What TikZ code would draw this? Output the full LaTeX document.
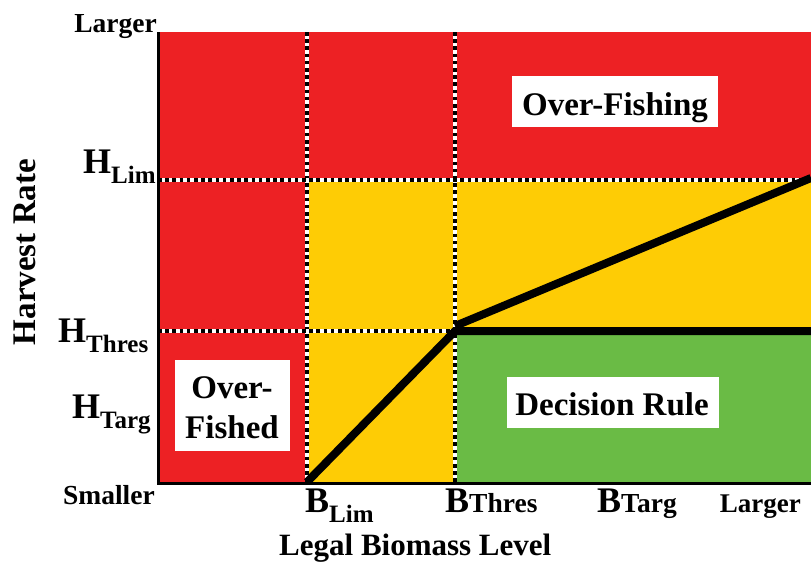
\documentclass[tikz,border=0pt]{standalone}
\usepackage{fontspec}
\setmainfont{Liberation Serif}
\definecolor{zred}{RGB}{237,33,36}
\definecolor{zyellow}{RGB}{254,204,5}
\definecolor{zgreen}{RGB}{106,187,69}
\newcommand{\fs}[1]{\fontsize{#1}{#1}\selectfont}
\begin{document}
\begin{tikzpicture}[x=1pt,y=-1pt,
  lbl/.style={inner sep=0pt, font=\bfseries},
  zonebox/.style={fill=white, inner sep=0pt},
  zonetext/.style={inner sep=0pt, anchor=base, font=\bfseries\fs{33}},
  dotline/.style={line width=3.5pt, black, dash pattern=on 3.6pt off 3.6pt, preaction={draw, white, solid, line width=3.5pt}},
  rule/.style={line width=8pt, black, line cap=butt, line join=miter},
  axis/.style={line width=3pt, black}]
\useasboundingbox (0,0) rectangle (811,562);
% key points
\coordinate (tl) at (158,32);
\coordinate (br) at (811,482);
\coordinate (bl) at (158,483);
\coordinate (brr) at (811,483);
\coordinate (blimT) at (307,32);
\coordinate (blimB) at (307,482);
\coordinate (bthrT) at (455,32);
\coordinate (bthrB) at (455,482);
\coordinate (hlimL) at (158,180);
\coordinate (hlimR) at (811,180);
\coordinate (hthrL) at (158,331);
\coordinate (hthrM) at (455,331);
\coordinate (hthrR) at (811,331);
\coordinate (upS) at (455,326);
\coordinate (upE) at (811,178);
% zones
\fill[zred] (tl) rectangle (br);
\fill[zyellow] (307,180) -- (811,180) -- (811,331) -- (455,331) -- (455,482) -- (307,482) -- cycle;
\fill[zgreen] (hthrM) rectangle (br);
% reference lines
\draw[dotline] (blimT) -- (blimB);
\draw[dotline] (bthrT) -- (bthrB);
\draw[dotline] (hlimL) -- (hlimR);
\draw[dotline] (hthrL) -- (hthrM);
% decision rule lines
\draw[rule] (blimB) -- (hthrM) -- (hthrR);
\draw[rule] (upS) -- (upE);
% axes
\draw[axis] (tl) -- (bl) -- (brr);
% zone labels
\node[zonebox, minimum width=206pt, minimum height=51pt] (ofing) at (615,101.5) {};
\node[zonetext] (ofingt) at (615,115) {Over-Fishing};
\node[zonebox, minimum width=212pt, minimum height=51pt] (drule) at (613,402.5) {};
\node[zonetext] (drulet) at (612,415) {Decision Rule};
\node[zonebox, minimum width=115pt, minimum height=91pt] (ofed) at (232.5,405.5) {};
\node[zonetext] (ofedt1) at (232,398) {Over-};
\node[zonetext] (ofedt2) at (232,438) {Fished};
% y axis labels
\node[lbl, anchor=base east, font=\bfseries\fs{27.5}] (ylarge) at (157,32) {Larger};
\node[lbl, anchor=base east, font=\bfseries\fs{27.5}] (ysmall) at (155,504) {Smaller};
\node[lbl, anchor=base west, font=\bfseries\fs{36}] (hlim) at (83,173) {H\raisebox{-10pt}{\fs{25}Lim}};
\node[lbl, anchor=base west, font=\bfseries\fs{36}] (hthr) at (58,342) {H\raisebox{-10pt}{\fs{25}Thres}};
\node[lbl, anchor=base west, font=\bfseries\fs{36}] (htarg) at (72,418) {H\raisebox{-10pt}{\fs{25}Targ}};
\node[lbl, rotate=90, font=\bfseries\fs{33}] (ytitle) at (25,252) {Harvest Rate};
% x axis labels
\node[lbl, anchor=base west, font=\bfseries\fs{36}] (blim) at (305,512) {B\raisebox{-10pt}{\fs{25}Lim}};
\node[lbl, anchor=base west, font=\bfseries\fs{36}] (bthr) at (445,512) {B{\fs{27.5}Thres}};
\node[lbl, anchor=base west, font=\bfseries\fs{36}] (btarg) at (597,512) {B{\fs{27.5}Targ}};
\node[lbl, anchor=base east, font=\bfseries\fs{27}] (xlarge) at (801,512) {Larger};
\node[lbl, anchor=base west, font=\bfseries\fs{31}] (xtitle) at (279,555) {Legal Biomass Level};
\end{tikzpicture}
\end{document}
